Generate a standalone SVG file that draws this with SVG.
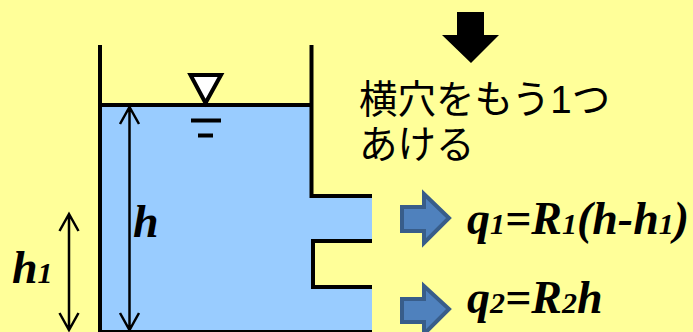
<svg xmlns="http://www.w3.org/2000/svg" width="693" height="332" viewBox="0 0 693 332">
<style>
.w{fill:none;stroke:#000;stroke-width:4}
.d{fill:none;stroke:#000;stroke-width:2.5}
.m{font-family:"Liberation Serif",serif;font-weight:bold;font-style:italic;font-size:46px;fill:#000}
.s{font-size:30px}
.j{font-family:"Liberation Sans","Noto Sans CJK JP",sans-serif;font-size:38.500px;fill:#000}
.b{fill:#4f81bd;stroke:#385d8a;stroke-width:4}
</style>
<rect width="693" height="332" fill="#ffff99"/>
<g id="tank">
<path d="M100 105H311V196H372V241H311V287H372V332H100Z" fill="#99ccff"/>
<path class="w" d="M100 45V332"/>
<path class="w" d="M311.500 45V196H372"/>
<path class="w" d="M100 105H311"/>
<path class="w" d="M372 241H313V287H372"/>
<path d="M100 331H372" stroke="#000" stroke-width="2" fill="none"/>
</g>
<g id="level">
<path d="M190.500 75H221L205.500 103Z" fill="#fff" stroke="#000" stroke-width="4"/>
<path class="w" d="M191 120.500H221M198 135.500H213"/>
</g>
<g id="connectors">
<path class="d" d="M129.500 108V329M120 124L129.500 107L139 124M120 313L129.500 330L139 313"/>
<path class="d" d="M69 214V329M59.500 231L69 214L78.500 231M59.500 313L69 330L78.500 313"/>
</g>
<g id="label-h"><text class="m" x="133" y="237">h</text></g>
<g id="label-h1"><text class="m" x="12" y="283">h<tspan class="s">1</tspan></text></g>
<g id="down-arrow"><path d="M457 12H484V35H499L471 63L442 35H457Z" fill="#000"/></g>
<g id="note">
<text class="j" x="359" y="113">横穴をもう1つ</text>
<text class="j" x="359" y="157.500">あける</text>
</g>
<g id="flow1">
<path class="b" d="M402 207H424V194L449 218L424 243V231H402Z"/>
<text class="m" x="467" y="234">q<tspan class="s">1</tspan>=R<tspan class="s">1</tspan>(h-h<tspan class="s">1</tspan>)</text>
</g>
<g id="flow2">
<path class="b" d="M402 299H424V286L449 309L424 334V322H402Z"/>
<text class="m" x="467" y="313">q<tspan class="s">2</tspan>=R<tspan class="s">2</tspan>h</text>
</g>
</svg>
